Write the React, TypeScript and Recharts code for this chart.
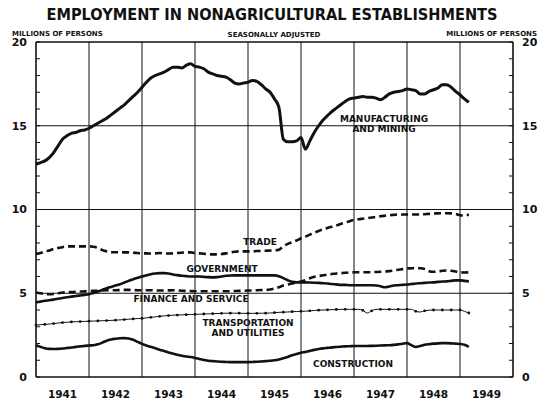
import { LineChart, Line, XAxis, YAxis, CartesianGrid } from 'recharts';

// Monthly values, millions of persons, starting January 1941
const START_YEAR = 1941;

const manufacturing = [
  12.7, 12.8, 12.9, 13.1, 13.4, 13.8, 14.2, 14.4, 14.55, 14.6, 14.7, 14.75,
  14.85, 15.0, 15.15, 15.3, 15.45, 15.65, 15.85, 16.05, 16.25, 16.5, 16.75, 17.0,
  17.3, 17.6, 17.85, 18.0, 18.1, 18.2, 18.35, 18.5, 18.5, 18.45, 18.6, 18.7,
  18.55, 18.5, 18.4, 18.2, 18.1, 18.0, 17.95, 17.9, 17.75, 17.55, 17.5, 17.55,
  17.6, 17.7, 17.65, 17.45, 17.2, 17.0, 16.6, 16.1, 14.2, 14.05, 14.05, 14.1,
  14.3, 13.6, 14.1, 14.6, 15.0, 15.35, 15.6, 15.85, 16.05, 16.25, 16.45, 16.6,
  16.65, 16.7, 16.75, 16.7, 16.7, 16.65, 16.55, 16.7, 16.9, 17.0, 17.05, 17.1,
  17.2, 17.15, 17.1, 16.9, 16.9, 17.05, 17.15, 17.25, 17.45, 17.45, 17.3, 17.05,
  16.85, 16.6, 16.4,
];

const trade = [
  7.35, 7.4, 7.5, 7.55, 7.65, 7.7, 7.75, 7.8, 7.8, 7.8, 7.8, 7.8,
  7.8, 7.78, 7.7, 7.58, 7.5, 7.45, 7.45, 7.44, 7.44, 7.44, 7.42, 7.4,
  7.38, 7.38, 7.37, 7.38, 7.4, 7.38, 7.37, 7.38, 7.4, 7.42, 7.44, 7.44,
  7.4, 7.38, 7.36, 7.34, 7.32, 7.32, 7.34, 7.38, 7.44, 7.48, 7.5, 7.5,
  7.5, 7.5, 7.52, 7.52, 7.54, 7.55, 7.56, 7.6, 7.8, 7.95, 8.05, 8.15,
  8.28, 8.38, 8.5, 8.62, 8.72, 8.82, 8.9, 8.97, 9.05, 9.14, 9.22, 9.3,
  9.38, 9.42, 9.45, 9.48, 9.52, 9.56, 9.6, 9.63, 9.66, 9.68, 9.7, 9.7,
  9.7, 9.7, 9.7, 9.7, 9.72, 9.74, 9.76, 9.77, 9.78, 9.78, 9.77, 9.73,
  9.66, 9.64, 9.7,
];

const government = [
  4.45, 4.5, 4.55, 4.58, 4.62, 4.67, 4.72, 4.76, 4.8, 4.84, 4.87, 4.9,
  4.94, 5.02, 5.1, 5.2, 5.3, 5.38, 5.46, 5.54, 5.64, 5.74, 5.84, 5.92,
  6.0, 6.07, 6.14, 6.18, 6.2, 6.2, 6.18, 6.12, 6.08, 6.04, 6.02, 6.0,
  6.0, 6.0, 5.98, 5.96, 5.95, 5.96, 6.0, 6.04, 6.06, 6.07, 6.07, 6.07,
  6.07, 6.07, 6.07, 6.07, 6.07, 6.07, 6.07, 6.02, 5.9, 5.78, 5.68, 5.65,
  5.65, 5.65, 5.64, 5.63, 5.62, 5.6, 5.58, 5.55, 5.53, 5.5, 5.5, 5.48,
  5.48, 5.48, 5.48, 5.48, 5.48, 5.46, 5.42, 5.36, 5.4, 5.46, 5.48, 5.5,
  5.52, 5.55, 5.58, 5.6, 5.62, 5.64, 5.65, 5.68, 5.7, 5.71, 5.74, 5.77,
  5.77, 5.74, 5.71,
];

const financeService = [
  5.05, 5.0, 4.96, 4.94, 4.96, 5.0, 5.04, 5.06, 5.07, 5.08, 5.1, 5.11,
  5.12, 5.14, 5.15, 5.17, 5.18, 5.18, 5.18, 5.19, 5.2, 5.2, 5.19, 5.18,
  5.18, 5.18, 5.18, 5.17, 5.16, 5.16, 5.17, 5.18, 5.17, 5.15, 5.14, 5.13,
  5.12, 5.12, 5.12, 5.12, 5.12, 5.12, 5.12, 5.12, 5.12, 5.13, 5.14, 5.15,
  5.16, 5.17, 5.18, 5.19, 5.2, 5.22, 5.28, 5.36, 5.46, 5.52, 5.58, 5.64,
  5.7, 5.78, 5.9, 5.98, 6.03, 6.07, 6.12, 6.15, 6.18, 6.2, 6.22, 6.24,
  6.25, 6.25, 6.25, 6.25, 6.26, 6.27, 6.28, 6.3, 6.32, 6.36, 6.4, 6.44,
  6.48, 6.49, 6.5, 6.49, 6.45, 6.32, 6.28, 6.3, 6.34, 6.36, 6.34, 6.3,
  6.25, 6.24, 6.25,
];

const transportation = [
  3.1, 3.12, 3.14, 3.16, 3.19, 3.22, 3.25, 3.27, 3.29, 3.3, 3.31, 3.32,
  3.33, 3.34, 3.35, 3.36, 3.37, 3.38, 3.39, 3.41, 3.43, 3.45, 3.47, 3.49,
  3.5, 3.53, 3.56, 3.59, 3.62, 3.65, 3.67, 3.69, 3.7, 3.71, 3.72, 3.73,
  3.74, 3.75, 3.76, 3.77, 3.78, 3.79, 3.8, 3.81, 3.81, 3.81, 3.81, 3.8,
  3.8, 3.8, 3.8, 3.81, 3.81, 3.82, 3.84, 3.86, 3.87, 3.88, 3.9, 3.91,
  3.92, 3.93, 3.95, 3.97, 3.99, 4.0, 4.01, 4.02, 4.03, 4.04, 4.04, 4.04,
  4.04, 4.04, 3.98, 3.82, 3.95, 4.04, 4.04, 4.04, 4.04, 4.04, 4.04, 4.04,
  4.04, 4.04, 3.92, 3.88, 3.95, 3.99, 4.0, 4.0, 4.0, 4.0, 4.0, 4.0,
  4.0, 3.92, 3.82,
];

const construction = [
  1.9, 1.8, 1.72, 1.68, 1.67, 1.68, 1.7, 1.73, 1.76, 1.8, 1.83, 1.86,
  1.88, 1.9, 1.95, 2.05, 2.17, 2.24, 2.28, 2.31, 2.32, 2.3, 2.22, 2.1,
  1.98, 1.88, 1.8, 1.72, 1.63, 1.55, 1.47, 1.4, 1.33, 1.27, 1.22, 1.19,
  1.14, 1.08, 1.02, 0.97, 0.95, 0.93, 0.91, 0.9, 0.89, 0.89, 0.89, 0.89,
  0.89, 0.9, 0.91, 0.93, 0.95, 0.97, 1.0, 1.05, 1.12, 1.2, 1.3, 1.38,
  1.45, 1.5, 1.56, 1.62, 1.67, 1.71, 1.74, 1.77, 1.79, 1.81, 1.83, 1.84,
  1.85, 1.85, 1.85, 1.85, 1.86, 1.87, 1.88, 1.89, 1.9, 1.92, 1.95, 1.99,
  2.02, 1.9, 1.8, 1.85, 1.92, 1.96, 1.99, 2.01, 2.02, 2.02, 2.01, 1.99,
  1.97, 1.92, 1.8,
];

const yearLabels = ['1941', '1942', '1943', '1944', '1945', '1946', '1947', '1948', '1949'];
const yearBounds = [0, 12, 24, 36, 48, 60, 72, 84, 96, 108];
const yearMids = [6, 18, 30, 42, 54, 66, 78, 90, 102];
const yTicks = [0, 1, 2, 3, 4, 5, 6, 7, 8, 9, 10, 11, 12, 13, 14, 15, 16, 17, 18, 19, 20];

// month offset from January of START_YEAR
const data = manufacturing.map((v, i) => ({
  m: i,
  manufacturing: v,
  trade: trade[i],
  government: government[i],
  finance: financeService[i],
  transportation: transportation[i],
  construction: construction[i],
}));

const FONT = '"DejaVu Sans", Verdana, sans-serif';
const INK = '#111';

const LeftTick = (props: any) => {
  const { x, y, payload } = props;
  const ax = x + 9;
  return (
    <g>
      <line x1={ax} x2={ax + 4} y1={y} y2={y} stroke={INK} strokeWidth={1} />
      {payload.value % 5 === 0 && (
        <text x={x} y={y} dy="0.36em" textAnchor="end" fontFamily={FONT} fontWeight="bold" fontSize={11} fill={INK}>
          {payload.value}
        </text>
      )}
    </g>
  );
};

const RightTick = (props: any) => {
  const { x, y, payload } = props;
  const ax = x - 9;
  return (
    <g>
      <line x1={ax - 4} x2={ax} y1={y} y2={y} stroke={INK} strokeWidth={1} />
      {payload.value % 5 === 0 && (
        <text x={x} y={y} dy="0.36em" textAnchor="start" fontFamily={FONT} fontWeight="bold" fontSize={11} fill={INK}>
          {payload.value}
        </text>
      )}
    </g>
  );
};

const YearTick = (props: any) => {
  const { x, y, payload } = props;
  const idx = yearMids.indexOf(payload.value);
  return (
    <text x={x} y={y} dy="0.71em" textAnchor="middle" fontFamily={FONT} fontWeight="bold" fontSize={10.5} fill={INK}>
      {yearLabels[idx]}
    </text>
  );
};

const TransportDot = (props: any) => {
  const { cx, cy, index } = props;
  if (index % 2 !== 0) return <g key={`td-${index}`} />;
  return <circle key={`td-${index}`} cx={cx} cy={cy} r={1.4} fill={INK} />;
};

const labelStyle = { fontFamily: FONT, fontWeight: 'bold' as const, fontSize: 9, fill: INK };
const smallStyle = { fontFamily: FONT, fontWeight: 'bold' as const, fontSize: 7, fill: INK };

export default function App() {
  return (
    <div style={{ position: 'absolute', left: 0, top: 0, width: 546, height: 404, background: '#fff' }}>
      <LineChart width={546} height={404} data={data} margin={{ top: 42, right: 0, bottom: 0, left: 0 }}>
        <CartesianGrid
          yAxisId="left"
          stroke={INK}
          strokeWidth={1}
          horizontalValues={[5, 10, 15]}
          verticalValues={yearBounds.slice(1, -1)}
        />
        <CartesianGrid
          yAxisId="left"
          stroke={INK}
          strokeWidth={1.6}
          horizontalValues={[0, 20]}
          verticalValues={[0, 108]}
        />
        <XAxis
          dataKey="m"
          type="number"
          domain={[0, 108]}
          ticks={yearMids}
          interval={0}
          axisLine={false}
          tickLine={false}
          tickSize={0}
          tickMargin={14}
          height={27}
          tick={<YearTick />}
        />
        <YAxis
          yAxisId="left"
          orientation="left"
          domain={[0, 20]}
          ticks={yTicks}
          interval={0}
          width={36}
          axisLine={false}
          tickLine={false}
          tickSize={0}
          tickMargin={9}
          tick={<LeftTick />}
        />
        <YAxis
          yAxisId="right"
          orientation="right"
          domain={[0, 20]}
          ticks={yTicks}
          interval={0}
          width={33}
          axisLine={false}
          tickLine={false}
          tickSize={0}
          tickMargin={9}
          tick={<RightTick />}
        />
        <Line yAxisId="left" type="monotone" dataKey="manufacturing" stroke={INK} strokeWidth={3} dot={false} isAnimationActive={false} />
        <Line yAxisId="left" type="monotone" dataKey="trade" stroke={INK} strokeWidth={2.6} strokeDasharray="7 4" dot={false} isAnimationActive={false} />
        <Line yAxisId="left" type="monotone" dataKey="government" stroke={INK} strokeWidth={2.6} dot={false} isAnimationActive={false} />
        <Line yAxisId="left" type="monotone" dataKey="finance" stroke={INK} strokeWidth={2.6} strokeDasharray="7 4" dot={false} isAnimationActive={false} />
        <Line yAxisId="left" type="monotone" dataKey="transportation" stroke={INK} strokeWidth={1} dot={<TransportDot />} isAnimationActive={false} />
        <Line yAxisId="right" type="monotone" dataKey="construction" stroke={INK} strokeWidth={2.6} dot={false} isAnimationActive={false} />
      </LineChart>
      <svg width={546} height={404} style={{ position: 'absolute', left: 0, top: 0, pointerEvents: 'none' }}>
        <text x={272} y={20} textAnchor="middle" fontFamily={FONT} fontWeight="bold" fontSize={16} fill={INK} textLength={451} lengthAdjust="spacingAndGlyphs">
          EMPLOYMENT IN NONAGRICULTURAL ESTABLISHMENTS
        </text>
        <text x={12} y={35.5} {...smallStyle}>MILLIONS OF PERSONS</text>
        <text x={274} y={36.5} textAnchor="middle" {...smallStyle}>SEASONALLY ADJUSTED</text>
        <text x={537} y={35.5} textAnchor="end" {...smallStyle}>MILLIONS OF PERSONS</text>

        <text x={384} y={122} textAnchor="middle" {...labelStyle}>MANUFACTURING</text>
        <text x={384} y={132} textAnchor="middle" {...labelStyle}>AND MINING</text>
        <text x={260} y={245} textAnchor="middle" {...labelStyle}>TRADE</text>
        <text x={222} y={272} textAnchor="middle" {...labelStyle}>GOVERNMENT</text>
        <text x={191} y={302} textAnchor="middle" {...labelStyle}>FINANCE AND SERVICE</text>
        <text x={248} y={326} textAnchor="middle" {...labelStyle}>TRANSPORTATION</text>
        <text x={248} y={336} textAnchor="middle" {...labelStyle}>AND UTILITIES</text>
        <text x={353} y={367} textAnchor="middle" {...labelStyle}>CONSTRUCTION</text>
      </svg>
    </div>
  );
}
